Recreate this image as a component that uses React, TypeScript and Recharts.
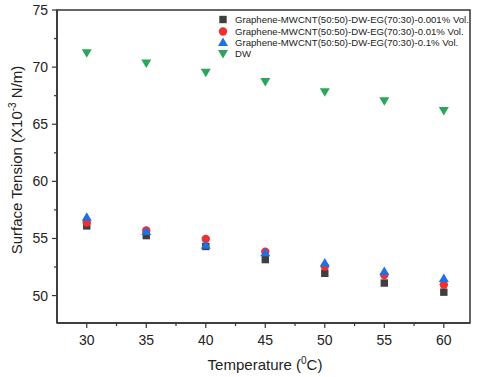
import React from "react";
import { ScatterChart, Scatter, XAxis, YAxis, ReferenceArea } from "recharts";

const temps = [30, 35, 40, 45, 50, 55, 60];
const st0001 = [56.1, 55.25, 54.3, 53.15, 51.95, 51.1, 50.3];
const st001 = [56.4, 55.7, 54.95, 53.85, 52.55, 51.8, 50.95];
const st01 = [56.85, 55.6, 54.4, 53.75, 52.85, 52.1, 51.5];
const dw = [71.25, 70.35, 69.55, 68.75, 67.85, 67.05, 66.2];

const xTicks = [30, 32.5, 35, 37.5, 40, 42.5, 45, 47.5, 50, 52.5, 55, 57.5, 60];
const yTicks = [50, 52.5, 55, 57.5, 60, 62.5, 65, 67.5, 70, 72.5, 75];

const series = [
  { name: "Graphene-MWCNT(50:50)-DW-EG(70:30)-0.001% Vol.", values: st0001, color: "#3f3f3f", kind: "square" },
  { name: "Graphene-MWCNT(50:50)-DW-EG(70:30)-0.01% Vol.", values: st001, color: "#ee3030", kind: "circle" },
  { name: "Graphene-MWCNT(50:50)-DW-EG(70:30)-0.1% Vol.", values: st01, color: "#1f6fe5", kind: "up" },
  { name: "DW", values: dw, color: "#2aa65a", kind: "down" },
];

const FONT = "'Liberation Sans', Arial, sans-serif";
const AXIS = "#333";

const Marker = ({ cx, cy, kind, color }: any) => {
  if (kind === "square") return <rect x={cx - 3.7} y={cy - 3.7} width={7.4} height={7.4} fill={color} />;
  if (kind === "circle") return <circle cx={cx} cy={cy} r={4.2} fill={color} />;
  if (kind === "up")
    return <polygon points={`${cx - 5},${cy + 3.5} ${cx + 5},${cy + 3.5} ${cx},${cy - 5}`} fill={color} />;
  return <polygon points={`${cx - 5},${cy - 3.5} ${cx + 5},${cy - 3.5} ${cx},${cy + 5}`} fill={color} />;
};

const XTick = ({ x, y, payload }: any) => {
  const major = payload.value % 5 === 0;
  return (
    <g>
      <line x1={x} x2={x} y1={y} y2={y + (major ? 5 : 3)} stroke={AXIS} strokeWidth={1.2} />
      {major && (
        <text x={x} y={y + 22} textAnchor="middle" fontSize={14} fill="#222" fontFamily={FONT}>
          {payload.value}
        </text>
      )}
    </g>
  );
};

const YTick = ({ x, y, payload }: any) => {
  const major = payload.value % 5 === 0;
  return (
    <g>
      <line x1={x - (major ? 5 : 3)} x2={x} y1={y} y2={y} stroke={AXIS} strokeWidth={1.2} />
      {major && (
        <text x={x - 9} y={y + 5} textAnchor="end" fontSize={14} fill="#222" fontFamily={FONT}>
          {payload.value}
        </text>
      )}
    </g>
  );
};

export default function App() {
  return (
    <div style={{ position: "absolute", left: 0, top: 0, width: 480, height: 377, background: "#fff" }}>
      <ScatterChart width={480} height={377} margin={{ top: 10, right: 10, bottom: 0, left: 0 }}>
        <XAxis
          type="number"
          dataKey="x"
          domain={[27.5, 62.2]}
          allowDataOverflow
          ticks={xTicks}
          interval={0}
          tickSize={0}
          tickMargin={0}
          tick={<XTick />}
          tickLine={false}
          height={54}
          axisLine={{ stroke: AXIS, strokeWidth: 1.5 }}
        />
        <YAxis
          type="number"
          dataKey="y"
          domain={[47.6, 75]}
          allowDataOverflow
          ticks={yTicks}
          interval={0}
          tickSize={0}
          tickMargin={0}
          tick={<YTick />}
          tickLine={false}
          width={57}
          axisLine={{ stroke: AXIS, strokeWidth: 1.5 }}
        />
        <ReferenceArea x1={27.5} x2={62.2} y1={47.6} y2={75} fill="none" stroke={AXIS} strokeWidth={1.5} ifOverflow="visible" />
        {series.map((s) => (
          <Scatter
            key={s.name}
            name={s.name}
            data={temps.map((t, i) => ({ x: t, y: s.values[i] }))}
            isAnimationActive={false}
            shape={(p: any) => <Marker cx={p.cx} cy={p.cy} kind={s.kind} color={s.color} />}
          />
        ))}
        <text
          transform="translate(22,160) rotate(-90)"
          textAnchor="middle"
          fontSize={15}
          fill="#222"
          fontFamily={FONT}
        >
          Surface Tension (X10
          <tspan fontSize={10} dy={-6}>-3</tspan>
          <tspan dy={6}> N/m)</tspan>
        </text>
        <text x={265} y={370} textAnchor="middle" fontSize={15} fill="#222" fontFamily={FONT}>
          Temperature (
          <tspan fontSize={10} dy={-6}>0</tspan>
          <tspan dy={6}>C)</tspan>
        </text>
      </ScatterChart>
      <div style={{ position: "absolute", left: 217, top: 14, fontFamily: FONT, fontSize: 9.6, color: "#222" }}>
        {series.map((s) => (
          <div key={s.name} style={{ display: "flex", alignItems: "center", height: 11.4, whiteSpace: "nowrap" }}>
            <svg width={12} height={11} style={{ marginRight: 6 }}>
              <Marker cx={6} cy={5.5} kind={s.kind} color={s.color} />
            </svg>
            {s.name}
          </div>
        ))}
      </div>
    </div>
  );
}
